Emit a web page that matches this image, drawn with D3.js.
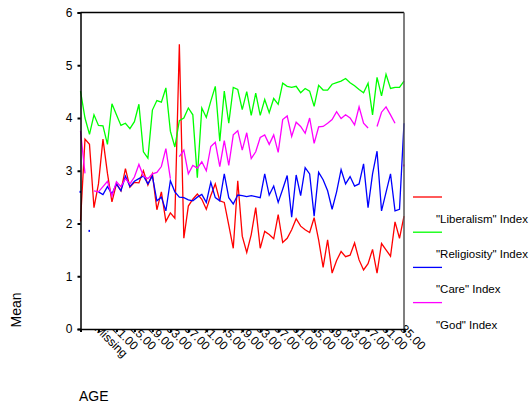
<!DOCTYPE html>
<html lang="en">
<head>
    <meta charset="UTF-8">
    <title>Mean by AGE</title>
    <script src="https://d3js.org/d3.v7.min.js"></script>
    <style>
        body { margin: 0; background: white; }
        text { font-family: "Liberation Sans", Arial, sans-serif; fill: #000; }
        .line { fill: none; stroke-width: 1.3; }
    </style>
</head>
<body>
<script>
    const width  = 530;
    const height = 405;

    // categories on the x axis (every 4th one carries a label)
    const categories = ["14.00", "15.00", "16.00", "17.00", "Missing"];
    for (let a = 18; a <= 85; a++) categories.push(a.toFixed(2));

    const yTicks = [0, 1, 2, 3, 4, 5, 6];

    const seriesNames = ['"Liberalism" Index', '"Religiosity" Index', '"Care" Index', '"God" Index'];
    const seriesColors = ["#ff0000", "#00ff00", "#0000ff", "#ff00ff"];

    const liberalism = [
        2.04, 3.6, 3.5, 2.3, 2.75, 3.6, 2.95, 2.41, 2.75, 2.62,
        3.04, 2.69, 2.78, 2.77, 3.0, 2.73, 2.94, 2.26, 2.6, 2.04,
        2.2, 2.1, 5.4, 1.72, 2.33, 2.46, 2.56, 2.46, 2.27, 2.53,
        2.75, 2.43, 2.4, 1.97, 1.53, 2.81, 1.76, 1.45, 1.79, 2.3,
        1.53, 1.85, 1.79, 1.71, 2.17, 1.64, 1.72, 1.88, 2.09, 1.95,
        1.88, 1.83, 2.11, 1.69, 1.17, 1.69, 1.06, 1.3, 1.47, 1.37,
        1.4, 1.63, 1.31, 1.12, 1.24, 1.51, 1.06, 1.62, 1.5, 1.38,
        2.03, 1.72, 2.14];

    const religiosity = [
        4.51, 4.0, 3.69, 4.06, 3.86, 3.85, 3.5, 4.27, 4.06, 3.86,
        3.9, 3.8, 3.93, 4.26, 3.36, 3.24, 4.15, 4.33, 4.3, 4.57,
        3.75, 3.45, 3.95, 4.0, 4.19, 4.06, 2.87, 4.19, 4.01, 4.32,
        4.6, 3.56, 4.51, 3.9, 4.58, 4.54, 4.16, 4.5, 4.05, 4.47,
        4.05, 4.35, 4.1, 4.37, 4.26, 4.66, 4.6, 4.58, 4.6, 4.48,
        4.56, 4.51, 4.22, 4.62, 4.53, 4.53, 4.64, 4.67, 4.7, 4.75,
        4.67, 4.61, 4.54, 4.48, 4.66, 4.06, 4.77, 4.42, 4.83, 4.56,
        4.58, 4.58, 4.7];

    const care = [
        2.6, null, 1.86, null, 2.6, 2.55, 2.7, 2.56, 2.75, 2.62,
        2.9, 2.7, 2.8, 2.85, 2.9, 2.75, 2.9, 2.43, 2.5, 2.24,
        2.81, 2.6, 2.5, 2.49, 2.45, 2.43, 2.5, 2.55, 2.4, 2.78,
        2.49, 2.43, 2.94, 2.49, 2.37, 2.54, 2.53, 2.51, 2.53, 2.51,
        2.49, 2.94, 2.54, 2.71, 2.4, 2.65, 2.91, 2.12, 2.92, 2.53,
        3.06, 2.94, 2.14, 2.97, 2.83, 2.62, 2.27, 2.6, 3.02, 2.75,
        2.89, 2.71, 2.75, 3.13, 2.3, 2.94, 3.37, 2.24, 2.59, 2.94,
        2.24, 2.27, 3.9];

    const god = [
        3.75, 2.95, null, 2.62, 2.6, 2.7, 2.8, 2.52, 2.79, 2.7,
        2.85, 2.75, 2.88, 3.12, 2.9, 2.85, 2.94, 2.97, 3.08, 3.42,
        2.85, null, 3.27, 3.39, 2.94, 3.1, 3.05, 3.17, 3.0, 3.46,
        3.54, 3.08, 3.57, 3.1, 3.68, 3.76, 3.39, 3.72, 3.23, 3.36,
        3.63, 3.68, 3.5, 3.68, 3.35, 3.97, 4.04, 3.65, 3.92, 3.84,
        3.71, 4.0, 3.52, 3.83, 3.84, 3.9, 3.97, 4.12, 3.99, 4.06,
        4.0, 3.87, 4.21, 3.9, 3.81, null, 3.84, 4.11, 4.21, 4.06,
        3.9, null, 3.1];

    const series = [liberalism, religiosity, care, god];

    const plot = {left: 80.5, right: 404, top: 12.5, bottom: 329};

    const svg = d3.select("body").append("svg")
        .attr("width", width).attr("height", height);

    const x = d3.scalePoint().domain(categories).range([plot.left, plot.right]);
    const y = d3.scaleLinear().domain([0, 6]).range([plot.bottom, plot.top]);

    const xTickValues = categories.filter((d, i) => i % 4 === 0);

    // x tick labels go underneath the plot background, which hides their first character
    const xLabels = svg.append("g").attr("transform", `translate(0,${plot.bottom})`)
        .call(d3.axisBottom(x).tickValues(xTickValues).tickSize(0)
            .tickFormat(d => d === categories[0] ? "" : d));
    xLabels.select(".domain").remove();
    xLabels.selectAll("text")
        .style("font-size", "12px").style("font-family", "Liberation Sans, Arial, sans-serif")
        .attr("text-anchor", "start")
        .attr("x", 0).attr("y", 0).attr("dy", 0)
        .attr("transform", "translate(-5,0.5) rotate(45)");

    // plot background
    svg.append("rect").attr("x", plot.left).attr("y", plot.top)
        .attr("width", plot.right - plot.left).attr("height", plot.bottom - plot.top)
        .attr("fill", "white");

    const line = d3.line()
        .defined(d => d.v != null)
        .x(d => x(d.c))
        .y(d => y(d.v));

    series.forEach((vals, s) => {
        const pts = vals.map((v, i) => ({c: categories[i], v: v}));
        svg.append("path").attr("class", "line")
            .attr("d", line(pts))
            .attr("stroke", seriesColors[s]);
        // isolated points (no neighbours) drawn as tiny marks
        pts.forEach((p, i) => {
            if (p.v != null && (i === 0 || vals[i - 1] == null) && (i === vals.length - 1 || vals[i + 1] == null)) {
                svg.append("rect").attr("x", x(p.c) - 1).attr("y", y(p.v) - 1)
                    .attr("width", 1.5).attr("height", 2).attr("fill", seriesColors[s]);
            }
        });
    });

    // frame: top and right edges
    svg.append("line").attr("x1", plot.left).attr("x2", plot.right)
        .attr("y1", plot.top).attr("y2", plot.top)
        .attr("stroke", "#000").attr("stroke-width", 1.5);
    svg.append("line").attr("x1", plot.right).attr("x2", plot.right)
        .attr("y1", plot.top).attr("y2", plot.bottom)
        .attr("stroke", "#555").attr("stroke-width", 1.5);

    // x axis line and tick marks
    const xAxis = svg.append("g").attr("transform", `translate(0,${plot.bottom})`)
        .call(d3.axisBottom(x).tickValues(xTickValues).tickSize(3).tickFormat(""));
    xAxis.select(".domain").attr("stroke", "#000").attr("stroke-width", 1.5);
    xAxis.selectAll(".tick line").attr("stroke", "#000").attr("stroke-width", 2);

    // y axis
    const yAxis = svg.append("g").attr("transform", `translate(${plot.left},0)`)
        .call(d3.axisLeft(y).tickValues(yTicks).tickSize(3).tickPadding(5).tickFormat(d3.format("d")));
    yAxis.select(".domain").attr("stroke", "#000").attr("stroke-width", 1.5);
    yAxis.selectAll(".tick line").attr("stroke", "#000").attr("stroke-width", 2);
    yAxis.selectAll("text").style("font-size", "12px").style("font-family", "Liberation Sans, Arial, sans-serif");

    // axis titles
    svg.append("text").attr("x", 79).attr("y", 401)
        .style("font-size", "14px").text("AGE");
    svg.append("text").attr("transform", "translate(21,310) rotate(-90)")
        .attr("text-anchor", "middle").style("font-size", "14px").text("Mean");

    // legend
    const legend = svg.append("g");
    seriesNames.forEach((name, i) => {
        const ly = 197 + i * 35.2;
        legend.append("line").attr("x1", 413).attr("x2", 442)
            .attr("y1", ly).attr("y2", ly)
            .attr("stroke", seriesColors[i]).attr("stroke-width", 1.3);
        legend.append("text").attr("x", 436).attr("y", ly + 26)
            .style("font-size", "11.5px").text(name);
    });
</script>
</body>
</html>
